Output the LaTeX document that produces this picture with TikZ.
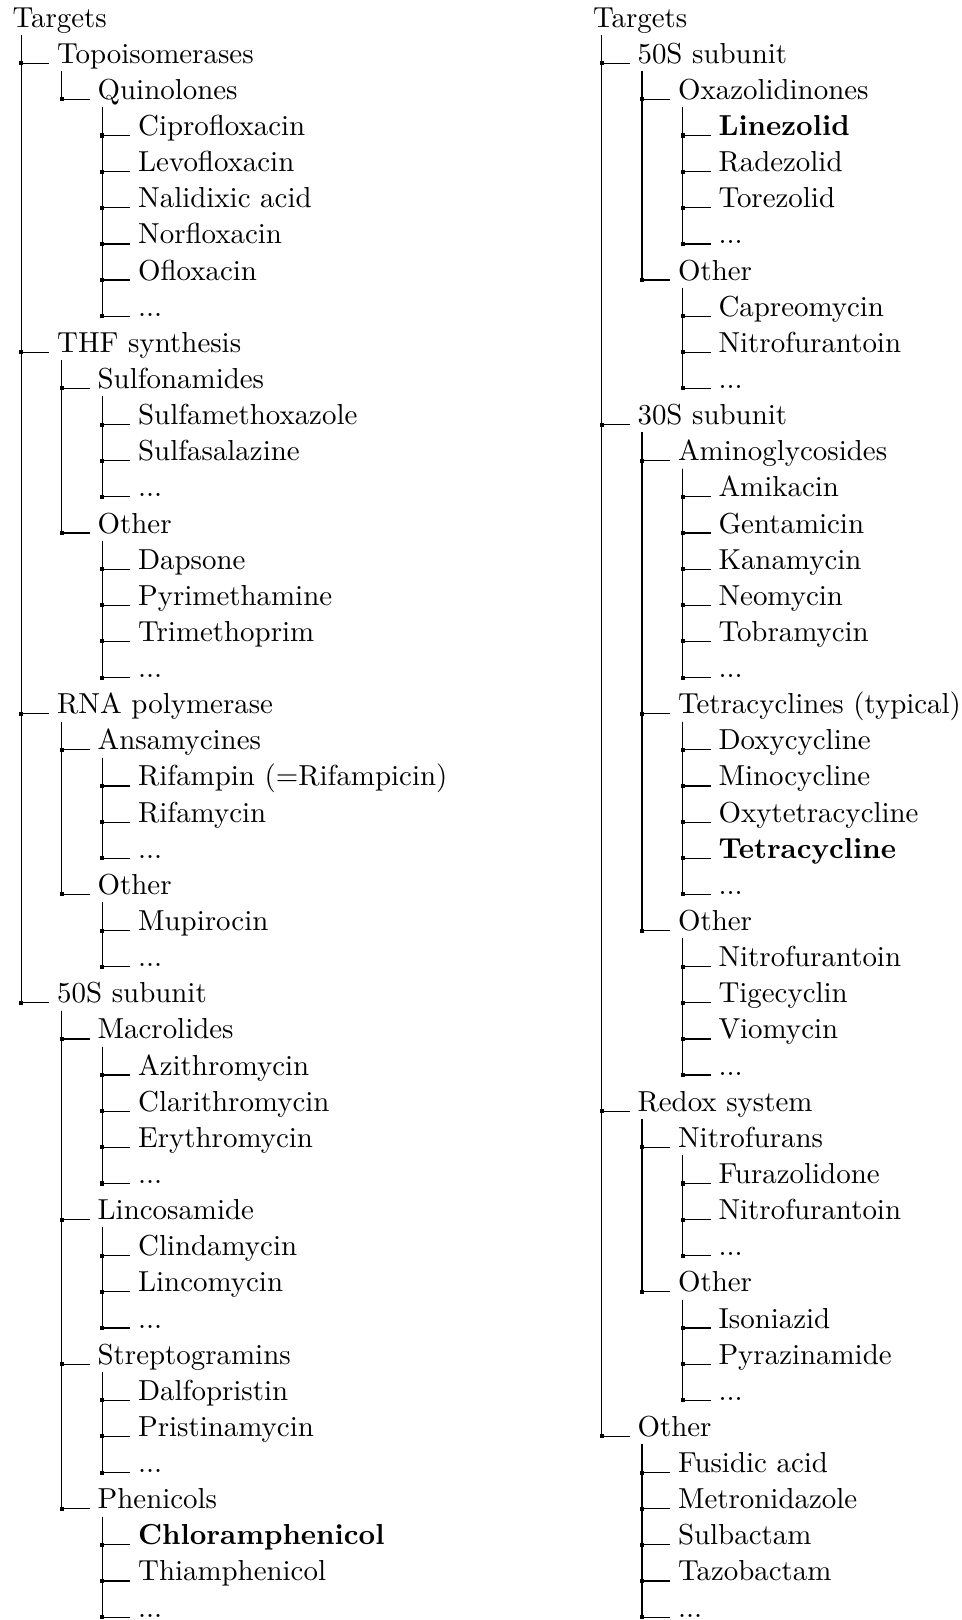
\documentclass[tikz,border=0pt]{standalone}

\tikzset{
  leaf/.style = {anchor = base west, inner xsep = 2.5pt, inner ysep = 1pt},
  rootnode/.style = {leaf, inner xsep = 1.1pt},
  junction/.style = {fill = black, inner sep = 0pt, minimum size = 1.4pt},
  branch/.style = {to path = {([shift={(4.25pt,-2.7pt)}]\tikztostart.base west) |- node[pos = 0.5, junction] {} (\tikztotarget.base west)}}
}

\begin{document}
\begin{tikzpicture}[x = 14pt, y = -12.5pt]
\useasboundingbox (0,-0.75) rectangle (23.75,44.08);

% left tree
\node[rootnode] (l0) at (0.22,0) {Targets};
\node[leaf] (l1) at (1.22,1) {Topoisomerases};
\node[leaf] (l2) at (2.22,2) {Quinolones};
\node[leaf] (l3) at (3.22,3) {Ciprofloxacin};
\node[leaf] (l4) at (3.22,4) {Levofloxacin};
\node[leaf] (l5) at (3.22,5) {Nalidixic acid};
\node[leaf] (l6) at (3.22,6) {Norfloxacin};
\node[leaf] (l7) at (3.22,7) {Ofloxacin};
\node[leaf] (l8) at (3.22,8) {...};
\node[leaf] (l9) at (1.22,9) {THF synthesis};
\node[leaf] (l10) at (2.22,10) {Sulfonamides};
\node[leaf] (l11) at (3.22,11) {Sulfamethoxazole};
\node[leaf] (l12) at (3.22,12) {Sulfasalazine};
\node[leaf] (l13) at (3.22,13) {...};
\node[leaf] (l14) at (2.22,14) {Other};
\node[leaf] (l15) at (3.22,15) {Dapsone};
\node[leaf] (l16) at (3.22,16) {Pyrimethamine};
\node[leaf] (l17) at (3.22,17) {Trimethoprim};
\node[leaf] (l18) at (3.22,18) {...};
\node[leaf] (l19) at (1.22,19) {RNA polymerase};
\node[leaf] (l20) at (2.22,20) {Ansamycines};
\node[leaf] (l21) at (3.22,21) {Rifampin (=Rifampicin)};
\node[leaf] (l22) at (3.22,22) {Rifamycin};
\node[leaf] (l23) at (3.22,23) {...};
\node[leaf] (l24) at (2.22,24) {Other};
\node[leaf] (l25) at (3.22,25) {Mupirocin};
\node[leaf] (l26) at (3.22,26) {...};
\node[leaf] (l27) at (1.22,27) {50S subunit};
\node[leaf] (l28) at (2.22,28) {Macrolides};
\node[leaf] (l29) at (3.22,29) {Azithromycin};
\node[leaf] (l30) at (3.22,30) {Clarithromycin};
\node[leaf] (l31) at (3.22,31) {Erythromycin};
\node[leaf] (l32) at (3.22,32) {...};
\node[leaf] (l33) at (2.22,33) {Lincosamide};
\node[leaf] (l34) at (3.22,34) {Clindamycin};
\node[leaf] (l35) at (3.22,35) {Lincomycin};
\node[leaf] (l36) at (3.22,36) {...};
\node[leaf] (l37) at (2.22,37) {Streptogramins};
\node[leaf] (l38) at (3.22,38) {Dalfopristin};
\node[leaf] (l39) at (3.22,39) {Pristinamycin};
\node[leaf] (l40) at (3.22,40) {...};
\node[leaf] (l41) at (2.22,41) {Phenicols};
\node[leaf] (l42) at (3.22,42) {\textbf{Chloramphenicol}};
\node[leaf] (l43) at (3.22,43) {Thiamphenicol};
\node[leaf] (l44) at (3.22,44) {...};

% right tree
\node[rootnode] (r0) at (14.56,0) {Targets};
\node[leaf] (r1) at (15.56,1) {50S subunit};
\node[leaf] (r2) at (16.56,2) {Oxazolidinones};
\node[leaf] (r3) at (17.56,3) {\textbf{Linezolid}};
\node[leaf] (r4) at (17.56,4) {Radezolid};
\node[leaf] (r5) at (17.56,5) {Torezolid};
\node[leaf] (r6) at (17.56,6) {...};
\node[leaf] (r7) at (16.56,7) {Other};
\node[leaf] (r8) at (17.56,8) {Capreomycin};
\node[leaf] (r9) at (17.56,9) {Nitrofurantoin};
\node[leaf] (r10) at (17.56,10) {...};
\node[leaf] (r11) at (15.56,11) {30S subunit};
\node[leaf] (r12) at (16.56,12) {Aminoglycosides};
\node[leaf] (r13) at (17.56,13) {Amikacin};
\node[leaf] (r14) at (17.56,14) {Gentamicin};
\node[leaf] (r15) at (17.56,15) {Kanamycin};
\node[leaf] (r16) at (17.56,16) {Neomycin};
\node[leaf] (r17) at (17.56,17) {Tobramycin};
\node[leaf] (r18) at (17.56,18) {...};
\node[leaf] (r19) at (16.56,19) {Tetracyclines (typical)};
\node[leaf] (r20) at (17.56,20) {Doxycycline};
\node[leaf] (r21) at (17.56,21) {Minocycline};
\node[leaf] (r22) at (17.56,22) {Oxytetracycline};
\node[leaf] (r23) at (17.56,23) {\textbf{Tetracycline}};
\node[leaf] (r24) at (17.56,24) {...};
\node[leaf] (r25) at (16.56,25) {Other};
\node[leaf] (r26) at (17.56,26) {Nitrofurantoin};
\node[leaf] (r27) at (17.56,27) {Tigecyclin};
\node[leaf] (r28) at (17.56,28) {Viomycin};
\node[leaf] (r29) at (17.56,29) {...};
\node[leaf] (r30) at (15.56,30) {Redox system};
\node[leaf] (r31) at (16.56,31) {Nitrofurans};
\node[leaf] (r32) at (17.56,32) {Furazolidone};
\node[leaf] (r33) at (17.56,33) {Nitrofurantoin};
\node[leaf] (r34) at (17.56,34) {...};
\node[leaf] (r35) at (16.56,35) {Other};
\node[leaf] (r36) at (17.56,36) {Isoniazid};
\node[leaf] (r37) at (17.56,37) {Pyrazinamide};
\node[leaf] (r38) at (17.56,38) {...};
\node[leaf] (r39) at (15.56,39) {Other};
\node[leaf] (r40) at (16.56,40) {Fusidic acid};
\node[leaf] (r41) at (16.56,41) {Metronidazole};
\node[leaf] (r42) at (16.56,42) {Sulbactam};
\node[leaf] (r43) at (16.56,43) {Tazobactam};
\node[leaf] (r44) at (16.56,44) {...};

\draw (l0) edge[branch] (l1) edge[branch] (l9) edge[branch] (l19) edge[branch] (l27);
\draw (l1) edge[branch] (l2);
\draw (l2) edge[branch] (l3) edge[branch] (l4) edge[branch] (l5) edge[branch] (l6) edge[branch] (l7) edge[branch] (l8);
\draw (l9) edge[branch] (l10) edge[branch] (l14);
\draw (l10) edge[branch] (l11) edge[branch] (l12) edge[branch] (l13);
\draw (l14) edge[branch] (l15) edge[branch] (l16) edge[branch] (l17) edge[branch] (l18);
\draw (l19) edge[branch] (l20) edge[branch] (l24);
\draw (l20) edge[branch] (l21) edge[branch] (l22) edge[branch] (l23);
\draw (l24) edge[branch] (l25) edge[branch] (l26);
\draw (l27) edge[branch] (l28) edge[branch] (l33) edge[branch] (l37) edge[branch] (l41);
\draw (l28) edge[branch] (l29) edge[branch] (l30) edge[branch] (l31) edge[branch] (l32);
\draw (l33) edge[branch] (l34) edge[branch] (l35) edge[branch] (l36);
\draw (l37) edge[branch] (l38) edge[branch] (l39) edge[branch] (l40);
\draw (l41) edge[branch] (l42) edge[branch] (l43) edge[branch] (l44);

\draw (r0) edge[branch] (r1) edge[branch] (r11) edge[branch] (r30) edge[branch] (r39);
\draw (r1) edge[branch] (r2) edge[branch] (r7);
\draw (r2) edge[branch] (r3) edge[branch] (r4) edge[branch] (r5) edge[branch] (r6);
\draw (r7) edge[branch] (r8) edge[branch] (r9) edge[branch] (r10);
\draw (r11) edge[branch] (r12) edge[branch] (r19) edge[branch] (r25);
\draw (r12) edge[branch] (r13) edge[branch] (r14) edge[branch] (r15) edge[branch] (r16) edge[branch] (r17) edge[branch] (r18);
\draw (r19) edge[branch] (r20) edge[branch] (r21) edge[branch] (r22) edge[branch] (r23) edge[branch] (r24);
\draw (r25) edge[branch] (r26) edge[branch] (r27) edge[branch] (r28) edge[branch] (r29);
\draw (r30) edge[branch] (r31) edge[branch] (r35);
\draw (r31) edge[branch] (r32) edge[branch] (r33) edge[branch] (r34);
\draw (r35) edge[branch] (r36) edge[branch] (r37) edge[branch] (r38);
\draw (r39) edge[branch] (r40) edge[branch] (r41) edge[branch] (r42) edge[branch] (r43) edge[branch] (r44);
\end{tikzpicture}
\end{document}
